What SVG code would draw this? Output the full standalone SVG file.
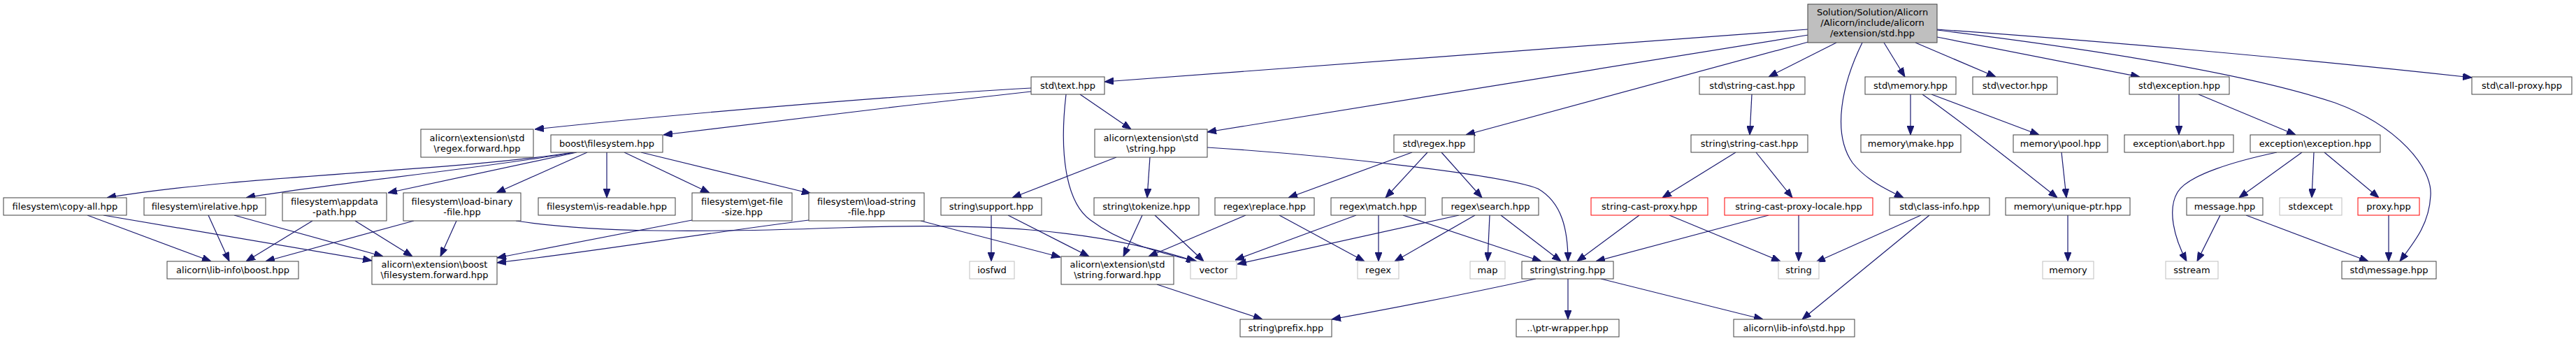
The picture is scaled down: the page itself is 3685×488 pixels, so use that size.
<svg xmlns="http://www.w3.org/2000/svg" width="3685" height="488" viewBox="0 0 3685 488">
<style>
.n rect{fill:#fff;stroke:#404040;stroke-width:1}
.g rect{fill:#fff;stroke:#bfbfbf;stroke-width:1}
.r rect{fill:#fff;stroke:#ff0000;stroke-width:1}
.root rect{fill:#bfbfbf;stroke:#404040;stroke-width:1}
text{font-family:"DejaVu Sans","Liberation Sans",sans-serif;font-size:13px;fill:#000;text-anchor:middle}
#edges path{fill:none;stroke:#191970;stroke-width:1.2;marker-end:url(#arr)}
</style>
<defs>
<marker id="arr" viewBox="0 0 13 10" refX="13" refY="5" markerWidth="13" markerHeight="10" markerUnits="userSpaceOnUse" orient="auto">
<path d="M0,0 L13,5 L0,10 z" fill="#191970" stroke="#191970" stroke-width="1"/>
</marker>
</defs>
<rect width="3685" height="488" fill="#fff"/>
<g id="edges">
<path d="M2586,42 L1580,117"/>
<path d="M2587,50 C2300,97 1900,160 1727,189"/>
<path d="M2587,60 L2097,193"/>
<path d="M2627,61 L2530,110"/>
<path d="M2664,61 C2635,120 2620,190 2650,233 C2670,258 2700,272 2723,283"/>
<path d="M2695,61 L2725,110"/>
<path d="M2740,61 L2855,110"/>
<path d="M2771,53 L3061,110"/>
<path d="M2771,42 C3000,58 3300,85 3536,111"/>
<path d="M2771,43 C2950,65 3200,100 3340,147 C3430,180 3480,240 3477,280 C3475,320 3455,345 3433,374"/>
<path d="M1475,126 C1300,136 1000,160 765,185"/>
<path d="M1475,131 C1300,150 1100,174 949,193"/>
<path d="M1545,135 L1618,185"/>
<path d="M1525,135 C1515,220 1525,290 1560,315 C1600,345 1650,360 1712,374"/>
<path d="M820,218 C650,245 350,250 153,283"/>
<path d="M822,218 C700,240 450,265 352,283"/>
<path d="M825,218 L555,276"/>
<path d="M840,218 L710,276"/>
<path d="M868,218 L868,283"/>
<path d="M893,218 L1015,276"/>
<path d="M917,218 L1160,277"/>
<path d="M125,308 L302,374"/>
<path d="M148,308 L532,373"/>
<path d="M298,308 L328,374"/>
<path d="M335,308 L548,367"/>
<path d="M447,316 L352,374"/>
<path d="M508,316 L590,367"/>
<path d="M592,316 L380,374"/>
<path d="M653,316 L630,367"/>
<path d="M738,316 C850,333 1000,333 1200,326 C1400,319 1560,325 1710,374"/>
<path d="M990,315 L711,369"/>
<path d="M1157,315 C1000,335 850,360 711,376"/>
<path d="M1317,316 L1517,368"/>
<path d="M1418,308 L1418,374"/>
<path d="M1442,308 L1558,367"/>
<path d="M1597,225 L1448,283"/>
<path d="M1645,225 L1641,283"/>
<path d="M1727,211 C1900,222 2150,250 2200,270 C2235,290 2243,330 2243,374"/>
<path d="M1634,308 L1607,367"/>
<path d="M1652,308 L1722,374"/>
<path d="M1782,308 L1643,367"/>
<path d="M1830,308 L1952,374"/>
<path d="M2020,218 L1843,283"/>
<path d="M2042,218 L1982,283"/>
<path d="M2062,218 L2120,283"/>
<path d="M1940,308 L1767,372"/>
<path d="M1972,308 L1972,374"/>
<path d="M2007,308 L2205,374"/>
<path d="M2087,308 L1770,378"/>
<path d="M2110,308 L1995,374"/>
<path d="M2131,308 L2128,374"/>
<path d="M2147,308 L2233,374"/>
<path d="M2197,399 C2100,420 2000,440 1905,457"/>
<path d="M2243,399 L2243,457"/>
<path d="M2290,399 L2522,457"/>
<path d="M1655,407 L1806,457"/>
<path d="M2506,135 L2503,193"/>
<path d="M2483,218 L2378,283"/>
<path d="M2512,218 L2564,283"/>
<path d="M2345,308 L2256,374"/>
<path d="M2388,308 L2547,374"/>
<path d="M2530,308 L2283,374"/>
<path d="M2573,308 L2573,374"/>
<path d="M2748,308 L2598,375"/>
<path d="M2760,308 L2578,457"/>
<path d="M2733,135 L2733,193"/>
<path d="M2750,135 C2800,170 2870,225 2943,283"/>
<path d="M2763,135 L2917,193"/>
<path d="M2949,218 L2956,283"/>
<path d="M2958,308 L2958,374"/>
<path d="M3117,135 L3117,193"/>
<path d="M3145,135 L3284,193"/>
<path d="M3257,218 C3200,230 3130,250 3115,275 C3100,300 3110,340 3128,374"/>
<path d="M3293,218 L3203,283"/>
<path d="M3310,218 L3307,283"/>
<path d="M3325,218 L3403,283"/>
<path d="M3176,308 L3143,374"/>
<path d="M3213,308 L3388,374"/>
<path d="M3417,308 L3417,374"/>
</g>
<g id="root" class="root"><rect x="2586" y="6" width="185" height="55"/><text x="2678.5" y="22">Solution/Solution/Alicorn</text><text x="2678.5" y="37">/Alicorn/include/alicorn</text><text x="2678.5" y="52">/extension/std.hpp</text></g>
<g id="std_text" class="n"><rect x="1475" y="110" width="105" height="25"/><text x="1527.5" y="127">std\text.hpp</text></g>
<g id="std_string_cast" class="n"><rect x="2431" y="110" width="151" height="25"/><text x="2506.5" y="127">std\string-cast.hpp</text></g>
<g id="std_memory" class="n"><rect x="2668" y="110" width="130" height="25"/><text x="2733" y="127">std\memory.hpp</text></g>
<g id="std_vector" class="n"><rect x="2822" y="110" width="121" height="25"/><text x="2882.5" y="127">std\vector.hpp</text></g>
<g id="std_exception" class="n"><rect x="3046" y="110" width="143" height="25"/><text x="3117.5" y="127">std\exception.hpp</text></g>
<g id="std_call_proxy" class="n"><rect x="3536" y="110" width="143" height="25"/><text x="3607.5" y="127">std\call-proxy.hpp</text></g>
<g id="regex_forward" class="n"><rect x="602" y="185" width="161" height="40"/><text x="682.5" y="201.5">alicorn\extension\std</text><text x="682.5" y="216.5">\regex.forward.hpp</text></g>
<g id="boost_filesystem" class="n"><rect x="788" y="193" width="160" height="25"/><text x="868" y="210">boost\filesystem.hpp</text></g>
<g id="ext_std_string" class="n"><rect x="1566" y="185" width="161" height="40"/><text x="1646.5" y="201.5">alicorn\extension\std</text><text x="1646.5" y="216.5">\string.hpp</text></g>
<g id="std_regex" class="n"><rect x="1994" y="193" width="115" height="25"/><text x="2051.5" y="210">std\regex.hpp</text></g>
<g id="string_string_cast" class="n"><rect x="2419" y="193" width="167" height="25"/><text x="2502.5" y="210">string\string-cast.hpp</text></g>
<g id="memory_make" class="n"><rect x="2662" y="193" width="143" height="25"/><text x="2733.5" y="210">memory\make.hpp</text></g>
<g id="memory_pool" class="n"><rect x="2880" y="193" width="135" height="25"/><text x="2947.5" y="210">memory\pool.hpp</text></g>
<g id="exception_abort" class="n"><rect x="3039" y="193" width="156" height="25"/><text x="3117" y="210">exception\abort.hpp</text></g>
<g id="exception_exception" class="n"><rect x="3219" y="193" width="186" height="25"/><text x="3312" y="210">exception\exception.hpp</text></g>
<g id="fs_copy_all" class="n"><rect x="5" y="283" width="176" height="25"/><text x="93" y="300">filesystem\copy-all.hpp</text></g>
<g id="fs_relative" class="n"><rect x="206" y="283" width="174" height="25"/><text x="293" y="300">filesystem\irelative.hpp</text></g>
<g id="fs_appdata" class="n"><rect x="404" y="276" width="149" height="40"/><text x="478.5" y="292.5">filesystem\appdata</text><text x="478.5" y="307.5">-path.hpp</text></g>
<g id="fs_load_binary" class="n"><rect x="577" y="276" width="168" height="40"/><text x="661" y="292.5">filesystem\load-binary</text><text x="661" y="307.5">-file.hpp</text></g>
<g id="fs_is_readable" class="n"><rect x="770" y="283" width="196" height="25"/><text x="868" y="300">filesystem\is-readable.hpp</text></g>
<g id="fs_get_file_size" class="n"><rect x="990" y="276" width="143" height="40"/><text x="1061.5" y="292.5">filesystem\get-file</text><text x="1061.5" y="307.5">-size.hpp</text></g>
<g id="fs_load_string" class="n"><rect x="1157" y="276" width="165" height="40"/><text x="1239.5" y="292.5">filesystem\load-string</text><text x="1239.5" y="307.5">-file.hpp</text></g>
<g id="string_support" class="n"><rect x="1346" y="283" width="144" height="25"/><text x="1418" y="300">string\support.hpp</text></g>
<g id="string_tokenize" class="n"><rect x="1565" y="283" width="150" height="25"/><text x="1640" y="300">string\tokenize.hpp</text></g>
<g id="regex_replace" class="n"><rect x="1738" y="283" width="142" height="25"/><text x="1809" y="300">regex\replace.hpp</text></g>
<g id="regex_match" class="n"><rect x="1904" y="283" width="135" height="25"/><text x="1971.5" y="300">regex\match.hpp</text></g>
<g id="regex_search" class="n"><rect x="2063" y="283" width="138" height="25"/><text x="2132" y="300">regex\search.hpp</text></g>
<g id="string_cast_proxy" class="r"><rect x="2276" y="283" width="167" height="25"/><text x="2359.5" y="300">string-cast-proxy.hpp</text></g>
<g id="string_cast_proxy_locale" class="r"><rect x="2467" y="283" width="212" height="25"/><text x="2573" y="300">string-cast-proxy-locale.hpp</text></g>
<g id="std_class_info" class="n"><rect x="2703" y="283" width="143" height="25"/><text x="2774.5" y="300">std\class-info.hpp</text></g>
<g id="memory_unique_ptr" class="n"><rect x="2869" y="283" width="178" height="25"/><text x="2958" y="300">memory\unique-ptr.hpp</text></g>
<g id="message" class="n"><rect x="3128" y="283" width="109" height="25"/><text x="3182.5" y="300">message.hpp</text></g>
<g id="stdexcept" class="g"><rect x="3261" y="283" width="89" height="25"/><text x="3305.5" y="300">stdexcept</text></g>
<g id="proxy" class="r"><rect x="3373" y="283" width="88" height="25"/><text x="3417" y="300">proxy.hpp</text></g>
<g id="lib_info_boost" class="n"><rect x="239" y="374" width="188" height="25"/><text x="333" y="391">alicorn\lib-info\boost.hpp</text></g>
<g id="fs_forward" class="n"><rect x="532" y="367" width="179" height="40"/><text x="621.5" y="383">alicorn\extension\boost</text><text x="621.5" y="398">\filesystem.forward.hpp</text></g>
<g id="iosfwd" class="g"><rect x="1387" y="374" width="64" height="25"/><text x="1419" y="391">iosfwd</text></g>
<g id="string_forward" class="n"><rect x="1518" y="367" width="161" height="40"/><text x="1598.5" y="383">alicorn\extension\std</text><text x="1598.5" y="398">\string.forward.hpp</text></g>
<g id="vector" class="g"><rect x="1703" y="374" width="66" height="25"/><text x="1736" y="391">vector</text></g>
<g id="regex" class="g"><rect x="1942" y="374" width="59" height="25"/><text x="1971.5" y="391">regex</text></g>
<g id="map" class="g"><rect x="2103" y="374" width="50" height="25"/><text x="2128" y="391">map</text></g>
<g id="string_string" class="n"><rect x="2177" y="374" width="131" height="25"/><text x="2242.5" y="391">string\string.hpp</text></g>
<g id="string" class="g"><rect x="2544" y="374" width="58" height="25"/><text x="2573" y="391">string</text></g>
<g id="memory" class="g"><rect x="2922" y="374" width="73" height="25"/><text x="2958.5" y="391">memory</text></g>
<g id="sstream" class="g"><rect x="3098" y="374" width="75" height="25"/><text x="3135.5" y="391">sstream</text></g>
<g id="std_message" class="n"><rect x="3350" y="374" width="135" height="25"/><text x="3417.5" y="391">std\message.hpp</text></g>
<g id="string_prefix" class="n"><rect x="1774" y="457" width="131" height="25"/><text x="1839.5" y="474">string\prefix.hpp</text></g>
<g id="ptr_wrapper" class="n"><rect x="2169" y="457" width="147" height="25"/><text x="2242.5" y="474">..\ptr-wrapper.hpp</text></g>
<g id="lib_info_std" class="n"><rect x="2480" y="457" width="173" height="25"/><text x="2566.5" y="474">alicorn\lib-info\std.hpp</text></g>
</svg>
